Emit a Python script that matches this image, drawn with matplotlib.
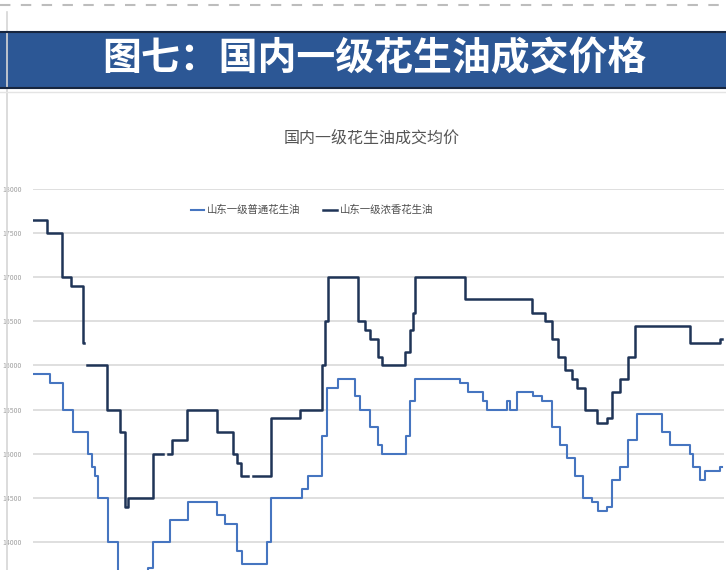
import matplotlib
matplotlib.use('Agg')
import matplotlib.pyplot as plt
import numpy as np
from matplotlib.lines import Line2D
from matplotlib.patches import Rectangle

plt.rcParams['font.family'] = ['Noto Sans CJK SC', 'DejaVu Sans']

# Data: day index of each price change, price (yuan/ton); nan = no quote
dark_days = [0, 14, 29, 38, 50, 51, 54, 74, 87, 92, 95, 120, 130, 135, 139, 154,
             184, 200, 204, 208, 215, 220, 238, 267, 289, 292, 295, 325, 332, 337,
             345, 349, 372, 377, 380, 382, 432, 499, 512, 519, 525, 532, 539, 544,
             552, 564, 574, 579, 587, 595, 602, 657, 687, 689]
dark_vals = [17650, 17500, 17000, 16900, 16250, np.nan, 16000, 15500, 15250, 14400,
             14500, 15000, np.nan, 15000, 15150, 15500, 15250, 15000, 14900, 14750,
             np.nan, 14750, 15400, 15500, 16000, 16500, 17000, 16500, 16400, 16300,
             16100, 16000, 16150, 16400, 16600, 17000, 16750, 16600, 16500, 16300,
             16100, 15950, 15850, 15750, 15500, 15350, 15400, 15700, 15850, 16100,
             16450, 16250, 16300, 16300]

blue_days = [0, 17, 30, 40, 55, 59, 62, 65, 75, 85, 115, 120, 137, 155, 184, 192,
             204, 209, 234, 238, 269, 275, 289, 294, 305, 322, 327, 337, 345, 349,
             373, 377, 382, 427, 435, 450, 454, 474, 477, 484, 500, 509, 519, 527,
             534, 542, 550, 559, 565, 574, 579, 587, 595, 604, 629, 637, 657, 660,
             667, 672, 687, 689]
blue_vals = [15900, 15800, 15500, 15250, 15000, 14850, 14750, 14500, 14000, 13500,
             13700, 14000, 14250, 14450, 14300, 14200, 13900, 13750, 14000, 14500,
             14600, 14750, 15200, 15750, 15850, 15650, 15500, 15300, 15100, 15000,
             15200, 15600, 15850, 15800, 15700, 15600, 15500, 15600, 15500, 15700,
             15650, 15600, 15300, 15100, 14950, 14750, 14500, 14450, 14350, 14400,
             14700, 14850, 15150, 15450, 15250, 15100, 15000, 14850, 14700, 14800,
             14850, 14850]

yticks = [14000, 14500, 15000, 15500, 16000, 16500, 17000, 17500, 18000]

W, H = 726, 570
fig = plt.figure(figsize=(W / 100, H / 100), dpi=100)

# page decorations
fig.add_artist(Line2D([0, 1], [1 - 5 / H, 1 - 5 / H], color='#bdbdbd', lw=1.5,
                      linestyle=(0, (5, 5))))
fig.add_artist(Line2D([7 / W, 7 / W], [0, 1 - 12 / H], color='#d6d6d6', lw=1.2))
fig.add_artist(Rectangle((0, 1 - 88 / H), 1, 56 / H, facecolor='#2c5795',
                         edgecolor='none'))
fig.add_artist(Line2D([0, 1], [1 - 32 / H, 1 - 32 / H], color='#17263f', lw=1.5))
fig.add_artist(Line2D([0, 1], [1 - 88 / H, 1 - 88 / H], color='#17263f', lw=1.5))
fig.add_artist(Line2D([0, 1], [1 - 92 / H, 1 - 92 / H], color='#e4e4e4', lw=1))
fig.text(374 / W, 1 - 59 / H, '图七：国内一级花生油成交价格', ha='center', va='center',
         color='white', fontsize=28, fontweight='bold')

fig.text(372 / W, 1 - 138 / H, '国内一级花生油成交均价', ha='center', va='center',
         color='#555555', fontsize=11.5, fontweight='medium')

# plot area
top = 189
ax = fig.add_axes([33 / W, 0, (724 - 33) / W, 1 - top / H])
ymin = 14000 - (570 - 542) * 500 / 44
ax.set_ylim(ymin, 18000)
ax.set_xlim(0, 691)

ax.step(blue_days, blue_vals, where='post', color='#4675c0', lw=1.5,
        label='山东一级普通花生油', zorder=3)
ax.step(dark_days, dark_vals, where='post', color='#1f3457', lw=1.8,
        label='山东一级浓香花生油', zorder=4)

ax.set_yticks(yticks)
ax.set_yticklabels([str(v) for v in yticks])
ax.yaxis.grid(True, color='#dcdcdc', lw=1.3)
ax.set_axisbelow(True)
ax.tick_params(axis='y', length=0, labelsize=5, labelcolor='#a0a0a0', pad=8)
ax.set_xticks([])
for s in ax.spines.values():
    s.set_visible(False)

ax.legend(loc='center', bbox_to_anchor=(312 / W, 1 - 210 / H),
          bbox_transform=fig.transFigure, ncol=2, frameon=False,
          prop={'size': 7.5, 'weight': 'medium'},
          handlelength=1.3, handletextpad=0.3, columnspacing=2.2,
          labelcolor='#4d4d4d')

fig.savefig('out.png', dpi=100)
